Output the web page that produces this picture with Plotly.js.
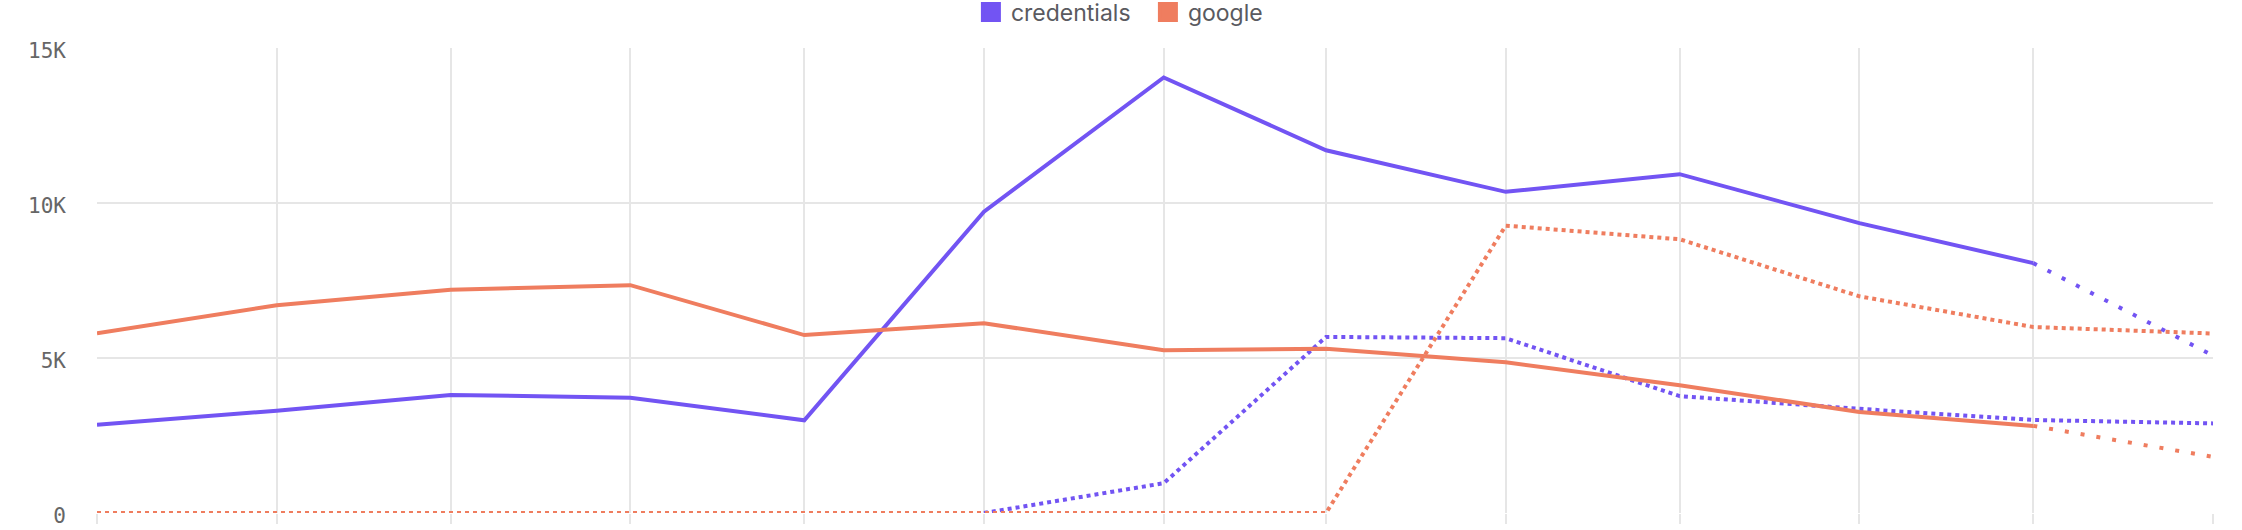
<!DOCTYPE html>
<html>
<head>
<meta charset="utf-8">
<script src="https://cdn.plot.ly/plotly-3.0.1.min.js"></script>
<style>
  html, body { margin: 0; padding: 0; background: #ffffff; }
  #chart { width: 2242px; height: 530px; }
</style>
</head>
<body>
<div id="chart"></div>
<script>
// ---- data ----
var months = ['2022-08-01','2022-09-01','2022-10-01','2022-11-01','2022-12-01','2023-01-01',
              '2023-02-01','2023-03-01','2023-04-01','2023-05-01','2023-06-01','2023-07-01','2023-08-01'];
var seriesNames = ['credentials', 'google'];

// current period (solid), Aug .. Jul
var credentialsActual = [2850, 3300, 3810, 3720, 2990, 9720, 14050, 11700, 10360, 10930, 9350, 8060];
var googleActual      = [5800, 6700, 7200, 7350, 5740, 6120, 5250, 5300, 4860, 4120, 3260, 2810];

// projection (sparse dots), Jul .. Aug
var credentialsProjection = [8060, 5080];
var googleProjection      = [2810, 1810];

// comparison period (dense dots), Aug .. Aug
var credentialsPrevious = [null, null, null, null, null, 0, 960, 5680, 5640, 3770, 3360, 3000, 2890];
var googlePrevious      = [0, 0, 0, 0, 0, 0, 0, 0, 9270, 8830, 6990, 6000, 5790];

var yTickVals = [0, 5000, 10000, 15000];
var yTickText = ['0', '5K', '10K', '15K'];

// ---- styling ----
var purple = '#7254F3';
var orange = '#EF7D5F';
var grid = '#e6e6e6';

var actualMonths = months.slice(0, 12);
var projMonths = months.slice(11, 13);

var traces = [
  {x: months, y: credentialsPrevious, mode: 'lines', line: {color: purple, width: 4, dash: '4px,4px'}, showlegend: false, hoverinfo: 'skip'},
  {x: months, y: googlePrevious, mode: 'lines', line: {color: orange, width: 4, dash: '4px,4px'}, showlegend: false, hoverinfo: 'skip'},
  {x: projMonths, y: credentialsProjection, mode: 'lines', line: {color: purple, width: 4, dash: '4px,12px'}, showlegend: false, hoverinfo: 'skip'},
  {x: projMonths, y: googleProjection, mode: 'lines', line: {color: orange, width: 4, dash: '4px,12px'}, showlegend: false, hoverinfo: 'skip'},
  {x: actualMonths, y: credentialsActual, mode: 'lines', line: {color: purple, width: 4}, showlegend: false, name: seriesNames[0]},
  {x: actualMonths, y: googleActual, mode: 'lines', line: {color: orange, width: 4}, showlegend: false, name: seriesNames[1]},
  // legend entries
  {x: [null], y: [null], mode: 'markers', name: seriesNames[0], marker: {symbol: 'square', size: 16, color: purple, line: {color: purple, width: 4}}, showlegend: true},
  {x: [null], y: [null], mode: 'markers', name: seriesNames[1], marker: {symbol: 'square', size: 16, color: orange, line: {color: orange, width: 4}}, showlegend: true}
];

var layout = {
  width: 2242,
  height: 530,
  margin: {l: 97, r: 29, t: 48, b: 17, pad: 0},
  paper_bgcolor: '#ffffff',
  plot_bgcolor: '#ffffff',
  showlegend: true,
  legend: {
    orientation: 'h',
    xref: 'container', yref: 'container',
    x: 0.512, xanchor: 'center',
    y: 1 - 12 / 530, yanchor: 'middle',
    font: {family: 'Inter, Lato, sans-serif', size: 23, color: '#5a5a60'},
    itemsizing: 'trace',
    entrywidth: 132,
    bgcolor: 'rgba(0,0,0,0)',
    borderwidth: 0
  },
  xaxis: {
    type: 'date',
    range: [months[0], months[months.length - 1]],
    tickmode: 'array',
    tickvals: months,
    showticklabels: false,
    showgrid: true,
    gridcolor: grid,
    gridwidth: 2,
    ticks: 'outside',
    ticklen: 10,
    tickwidth: 2,
    tickcolor: grid,
    zeroline: false,
    showline: false,
    fixedrange: true
  },
  yaxis: {
    range: [0, 15000],
    tickmode: 'array',
    tickvals: yTickVals,
    ticktext: yTickText,
    showgrid: true,
    gridcolor: grid,
    gridwidth: 2,
    zeroline: false,
    showline: false,
    ticks: '',
    ticklabelstandoff: 30,
    ticklabelshift: 3,
    tickfont: {family: '"DejaVu Sans Mono", monospace', size: 21, color: '#666666'},
    fixedrange: true
  },
  hovermode: false
};

Plotly.newPlot('chart', traces, layout, {displayModeBar: false, staticPlot: true});
</script>
</body>
</html>
